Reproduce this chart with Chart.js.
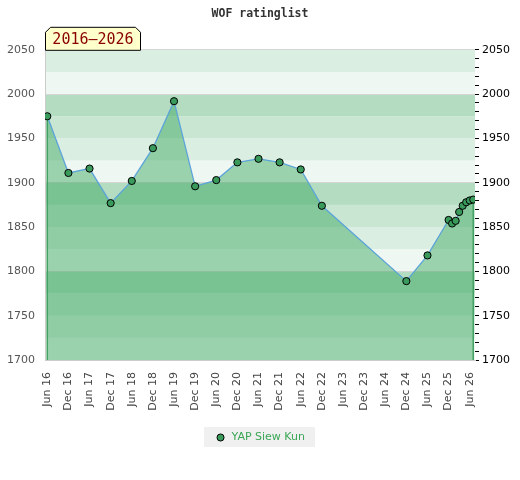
<!DOCTYPE html>
<html>
<head>
<script src="https://cdn.jsdelivr.net/npm/chart.js@4.4.1/dist/chart.umd.min.js"></script>
<style>
body { margin: 0; background: #fff; }
</style>
</head>
<body>
<canvas id="ratingChart" width="520" height="480"></canvas>
<script>
// rating list entries (year-month) and ratings
const dates = ['2016-06', '2016-12', '2017-06', '2017-12', '2018-06', '2018-12',
  '2019-06', '2019-12', '2020-06', '2020-12', '2021-06', '2021-12', '2022-06',
  '2022-12', '2024-12', '2025-06', '2025-12', '2026-01', '2026-02', '2026-03',
  '2026-04', '2026-05', '2026-06', '2026-07'];
const ratings = [1975, 1911, 1916, 1877, 1902, 1939, 1992, 1896, 1903, 1923, 1927,
  1923, 1915, 1874, 1789, 1818, 1858, 1854, 1857, 1867, 1874, 1878, 1880, 1881];
const tickLabels = ['Jun 16', 'Dec 16', 'Jun 17', 'Dec 17', 'Jun 18', 'Dec 18',
  'Jun 19', 'Dec 19', 'Jun 20', 'Dec 20', 'Jun 21', 'Dec 21', 'Jun 22', 'Dec 22',
  'Jun 23', 'Dec 23', 'Jun 24', 'Dec 24', 'Jun 25', 'Dec 25', 'Jun 26'];
const playerName = 'YAP Siew Kun';
const periodText = '2016\u20132026';

const bandColors = ['#eef7f1', '#dbeee2', '#c9e6d3', '#b3dcc1'];

function monthIndex(d) {
  const [yr, mo] = d.split('-').map(Number);
  return (yr - 2016) * 12 + (mo - 6);
}
const points = dates.map((d, i) => ({x: monthIndex(d), y: ratings[i]}));

const decorPlugin = {
  id: 'decor',
  beforeDraw(chart) {
    const {ctx, chartArea: a, scales: {y}} = chart;
    ctx.save();
    for (let v = y.min; v < y.max; v += 25) {
      const top = y.getPixelForValue(v + 25);
      const bottom = y.getPixelForValue(v);
      ctx.fillStyle = bandColors[(v % 100) / 25];
      ctx.fillRect(a.left, top, a.right - a.left, bottom - top);
    }
    const box = chart.legend.legendHitBoxes[0];
    if (box) {
      ctx.fillStyle = '#f0f0f0';
      ctx.fillRect(box.left - 11, box.top - 5, box.width + 21, box.height + 9);
    }
    ctx.restore();
  },
  beforeDatasetDraw(chart) {
    const {ctx, chartArea: a} = chart;
    const pts = chart.getDatasetMeta(0).data;
    const first = pts[0], last = pts[pts.length - 1];
    ctx.save();
    ctx.strokeStyle = '#44a163';
    ctx.lineWidth = 1.5;
    ctx.beginPath();
    ctx.moveTo(first.x, first.y); ctx.lineTo(first.x, a.bottom);
    ctx.moveTo(last.x, last.y); ctx.lineTo(last.x, a.bottom);
    ctx.stroke();
    ctx.restore();
  },
  afterDraw(chart) {
    const {ctx, chartArea: a} = chart;
    const l = a.left + 0.5, r = a.left + 95.5, t = a.top - 22.5, b = a.top + 0.5, c = 5;
    ctx.save();
    ctx.beginPath();
    ctx.moveTo(l, b); ctx.lineTo(l, t + c); ctx.lineTo(l + c, t);
    ctx.lineTo(r - c, t); ctx.lineTo(r, t + c); ctx.lineTo(r, b);
    ctx.closePath();
    ctx.fillStyle = '#ffffcc';
    ctx.fill();
    ctx.strokeStyle = '#000';
    ctx.lineWidth = 1;
    ctx.stroke();
    ctx.fillStyle = '#8b0000';
    ctx.font = '15px "DejaVu Sans Mono"';
    ctx.textAlign = 'center';
    ctx.textBaseline = 'middle';
    ctx.fillText(periodText, (l + r) / 2, (t + b) / 2 + 1);
    ctx.restore();
  }
};

new Chart(document.getElementById('ratingChart'), {
  type: 'line',
  data: {
    datasets: [{
      label: playerName,
      data: points,
      fill: 'start',
      backgroundColor: 'rgba(40,160,80,0.42)',
      borderColor: '#5ba3d9',
      borderWidth: 1.3,
      tension: 0,
      pointRadius: 3.6,
      pointBackgroundColor: '#3a9a5c',
      pointBorderColor: '#000',
      pointBorderWidth: 1
    }]
  },
  options: {
    responsive: false,
    animation: false,
    devicePixelRatio: 1,
    layout: {padding: {bottom: 27}},
    plugins: {
      title: {
        display: true,
        text: 'WOF ratinglist',
        color: '#333',
        font: {family: '"DejaVu Sans Mono"', size: 11.5, weight: 'bold'},
        padding: {top: 7, bottom: 29}
      },
      legend: {
        position: 'bottom',
        labels: {
          usePointStyle: true,
          pointStyle: 'circle',
          boxHeight: 5,
          color: '#3aa655',
          font: {family: '"DejaVu Sans"', size: 11}
        }
      },
      tooltip: {enabled: false}
    },
    scales: {
      x: {
        type: 'linear',
        min: -0.65,
        max: 121.5,
        afterBuildTicks(scale) {
          scale.ticks = tickLabels.map((_, i) => ({value: i * 6}));
        },
        afterFit(scale) { scale.height = 62; },
        ticks: {
          autoSkip: false,
          minRotation: 90,
          maxRotation: 90,
          padding: 12,
          color: '#444',
          font: {family: '"DejaVu Sans"', size: 11},
          callback: (v, i) => tickLabels[i]
        },
        grid: {display: false, drawTicks: false},
        border: {display: true, color: '#cccccc'}
      },
      y: {
        position: 'left',
        min: 1700,
        max: 2050,
        afterFit(scale) { scale.width = 45; },
        ticks: {
          stepSize: 50,
          padding: 10,
          color: '#555',
          font: {family: '"DejaVu Sans"', size: 11},
          callback: v => String(v)
        },
        grid: {
          drawTicks: false,
          color: ctx => (ctx.tick && (ctx.tick.value % 100 === 0 || ctx.tick.value === 2050)) ? '#d6d6d6' : 'rgba(0,0,0,0)'
        },
        border: {display: true, color: '#cccccc'}
      },
      y1: {
        position: 'right',
        min: 1700,
        max: 2050,
        afterFit(scale) { scale.width = 45; },
        ticks: {
          stepSize: 10,
          autoSkip: false,
          padding: 3,
          color: '#000',
          font: {family: '"DejaVu Sans"', size: 11},
          callback: v => (v % 50 === 0 ? String(v) : '')
        },
        grid: {drawOnChartArea: false, tickLength: 4, tickColor: '#000'},
        border: {display: false}
      }
    }
  },
  plugins: [decorPlugin]
});
</script>
</body>
</html>
